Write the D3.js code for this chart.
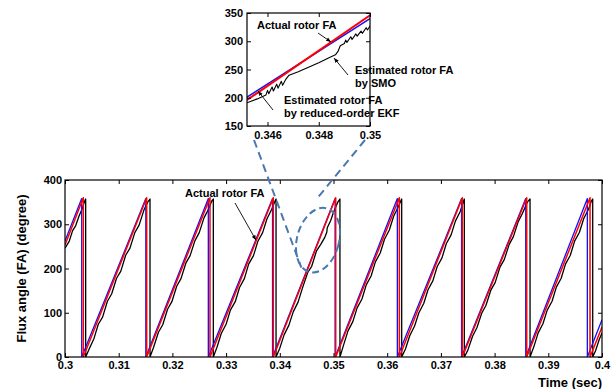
<!DOCTYPE html>
<html>
<head>
<meta charset="utf-8">
<script src="https://cdn.jsdelivr.net/npm/d3@7"></script>
<style>
	body { margin: 0; background: #fff; }
	svg text { font-family: "Liberation Sans", Arial, sans-serif; font-weight: bold; fill: #000; }
</style>
</head>
<body>
<svg id="svg" width="616" height="389"></svg>
<script>
// Flux angle (degree) against time (sec)

// actual rotor FA (red): ramp corners
var actualFA = [[0.3,253],[0.30341,360],[0.30341,0],[0.31521,360],[0.31521,0],[0.32700,360],[0.32700,0],
	[0.33879,360],[0.33879,0],[0.35041,360],[0.35041,0],[0.36226,360],[0.36226,0],[0.37399,360],[0.37399,0],
	[0.38598,360],[0.38598,0],[0.39777,360],[0.39777,0],[0.4,68]];

// estimated by reduced-order EKF (blue)
var ekfFA = [[0.3,262],[0.30311,358],[0.30311,0],[0.31505,358],[0.31505,0],[0.32669,358],[0.32669,0],
	[0.33865,358],[0.33865,0],[0.35030,358],[0.35030,0],[0.36189,358],[0.36189,0],[0.37385,358],[0.37385,0],
	[0.38580,358],[0.38580,0],[0.39727,358],[0.39727,0],[0.4,84]];

// estimated by SMO (black), wobbly and lagging a little
var smoFA = [[0.3000,246],[0.3008,262],[0.3014,285],[0.3020,297],[0.3026,318],[0.3032,335],[0.3036,350],[0.30385,357],[0.30385,0],
	[0.30450,18],[0.30540,42],[0.30620,74],[0.30700,90],[0.30790,126],[0.30870,143],[0.30960,178],[0.31040,194],
	[0.31130,230],[0.31210,246],[0.31300,281],[0.31380,298],[0.31470,332],[0.31540,350],[0.31583,357],[0.31583,0],
	[0.31650,22],[0.31740,56],[0.31820,73],[0.31910,108],[0.31990,125],[0.32080,160],[0.32160,177],[0.32250,212],
	[0.32330,229],[0.32420,263],[0.32500,281],[0.32590,315],[0.32670,333],[0.32730,352],[0.32762,357],[0.32762,0],
	[0.32830,22],[0.32910,53],[0.33000,74],[0.33080,106],[0.33170,125],[0.33250,157],[0.33340,177],[0.33420,210],
	[0.33510,229],[0.33590,261],[0.33680,281],[0.33760,312],[0.33850,334],[0.33910,352],[0.33930,357],[0.33930,0],
	[0.34000,20],[0.34080,50],[0.34170,72],[0.34250,102],[0.34340,124],[0.34420,155],[0.34520,191],[0.34594,205],
	[0.34684,240],[0.34760,254],[0.34840,271],[0.34875,282],[0.34884,292],[0.34950,309],[0.35000,327],[0.35080,350],
	[0.35120,357],[0.35120,0],
	[0.35190,28],[0.35270,59],[0.35360,80],[0.35440,111],[0.35530,131],[0.35610,163],[0.35700,183],[0.35780,215],
	[0.35870,235],[0.35950,266],[0.36040,287],[0.36120,318],[0.36210,340],[0.36250,352],[0.36270,357],[0.36270,0],
	[0.36340,18],[0.36420,48],[0.36510,70],[0.36590,100],[0.36680,121],[0.36760,152],[0.36850,172],[0.36930,204],
	[0.37020,224],[0.37100,256],[0.37190,276],[0.37270,307],[0.37360,329],[0.37410,348],[0.37436,357],[0.37436,0],
	[0.37500,15],[0.37590,47],[0.37670,66],[0.37760,99],[0.37840,117],[0.37930,151],[0.38010,168],[0.38100,203],
	[0.38180,220],[0.38270,254],[0.38350,272],[0.38440,306],[0.38520,325],[0.38610,350],[0.38660,357],[0.38660,0],
	[0.38730,23],[0.38810,54],[0.38900,75],[0.38980,106],[0.39070,126],[0.39150,158],[0.39240,178],[0.39320,210],
	[0.39410,230],[0.39490,262],[0.39580,282],[0.39660,313],[0.39750,334],[0.39800,352],[0.39827,357],[0.39827,0],
	[0.39880,14],[0.39950,40],[0.40000,54]];

// zoomed window 0.3452 - 0.35 s
var insetActual = [[0.3452,196],[0.3500,346]];
var insetEKF = [[0.3452,201],[0.3500,340]];
var insetSMO = [[0.3452,191],[0.3456,198],[0.34594,205],[0.3460,213],[0.34605,207],[0.34618,219],[0.34623,212],
	[0.34636,224],[0.34641,217],[0.34654,229],[0.34659,222],[0.34672,233],[0.34684,240],[0.3472,246],[0.3476,254],
	[0.3480,262],[0.3484,271],[0.34865,276],[0.34875,282],[0.34884,292],[0.3490,296],[0.34905,302],[0.3491,298],
	[0.34925,308],[0.3493,303],[0.34945,313],[0.3495,309],[0.34965,318],[0.3497,314],[0.34985,324],[0.3499,320],
	[0.3500,327]];

var mainTimeTicks = [0.3,0.31,0.32,0.33,0.34,0.35,0.36,0.37,0.38,0.39,0.4];
var mainAngleTicks = [0,100,200,300,400];
var insetTimeTicks = [0.346,0.348,0.35];
var insetAngleTicks = [150,200,250,300,350];

var svg = d3.select('#svg');

var main = {left: 65, top: 180, right: 602, bottom: 357};
var inset = {left: 247, top: 13, right: 370, bottom: 126};

var x = d3.scaleLinear().domain([0.3, 0.4]).range([main.left, main.right]);
var y = d3.scaleLinear().domain([0, 400]).range([main.bottom, main.top]);
var ix = d3.scaleLinear().domain([0.3452, 0.35]).range([inset.left, inset.right]);
var iy = d3.scaleLinear().domain([150, 350]).range([inset.bottom, inset.top]);

var defs = svg.append('defs');
defs.append('marker')
	.attr('id', 'arrow')
	.attr('viewBox', '0 0 10 10')
	.attr('refX', 10).attr('refY', 5)
	.attr('markerWidth', 5).attr('markerHeight', 5)
	.attr('markerUnits', 'userSpaceOnUse')
	.attr('orient', 'auto')
	.append('path').attr('d', 'M0,1 L10,5 L0,9 z').attr('fill', '#000');

function addClip(id, box){
	defs.append('clipPath').attr('id', id)
		.append('rect')
		.attr('x', box.left).attr('y', box.top)
		.attr('width', box.right - box.left).attr('height', box.bottom - box.top);
}
addClip('clipMain', main);
addClip('clipInset', inset);

function drawAxes(box, xs, ys, xTicks, yTicks, xFmt, yFmt, xPad, yPad){
	var g = svg.append('g');
	g.append('g').attr('transform', 'translate(0,' + box.bottom + ')')
		.call(d3.axisBottom(xs).tickValues(xTicks).tickFormat(xFmt).tickSizeInner(-4).tickSizeOuter(0).tickPadding(xPad));
	g.append('g').attr('transform', 'translate(0,' + box.top + ')')
		.call(d3.axisTop(xs).tickValues(xTicks).tickFormat('').tickSizeInner(-4).tickSizeOuter(0));
	g.append('g').attr('transform', 'translate(' + box.left + ',0)')
		.call(d3.axisLeft(ys).tickValues(yTicks).tickFormat(yFmt).tickSizeInner(-4).tickSizeOuter(0).tickPadding(yPad));
	g.append('g').attr('transform', 'translate(' + box.right + ',0)')
		.call(d3.axisRight(ys).tickValues(yTicks).tickFormat('').tickSizeInner(-4).tickSizeOuter(0));
	g.selectAll('.domain').remove();
	g.selectAll('.tick line').attr('stroke', '#000');
	g.selectAll('.tick text').style('font-size', '11px').style('font-family', '"Liberation Sans", Arial, sans-serif').style('font-weight', 'bold');
	g.append('rect')
		.attr('x', box.left).attr('y', box.top)
		.attr('width', box.right - box.left).attr('height', box.bottom - box.top)
		.attr('fill', 'none').attr('stroke', '#000').attr('stroke-width', 1.2);
}

function drawSeries(data, xs, ys, clip, color, width){
	var line = d3.line().x(function(d){ return xs(d[0]); }).y(function(d){ return ys(d[1]); });
	svg.append('path')
		.datum(data)
		.attr('clip-path', 'url(#' + clip + ')')
		.attr('d', line)
		.attr('fill', 'none')
		.attr('stroke', color)
		.attr('stroke-width', width)
		.attr('stroke-linejoin', 'round');
}

function label(txt, px, py, anchor, size){
	return svg.append('text').attr('x', px).attr('y', py)
		.attr('text-anchor', anchor || 'start')
		.style('font-size', (size || 11) + 'px')
		.text(txt);
}

function arrow(x1, y1, x2, y2){
	svg.append('line')
		.attr('x1', x1).attr('y1', y1).attr('x2', x2).attr('y2', y2)
		.attr('stroke', '#000').attr('stroke-width', 0.9)
		.attr('marker-end', 'url(#arrow)');
}

// main plot
drawSeries(smoFA, x, y, 'clipMain', '#000', 1.3);
drawSeries(ekfFA, x, y, 'clipMain', '#1010ff', 1.3);
drawSeries(actualFA, x, y, 'clipMain', '#ff0000', 1.5);
drawAxes(main, x, y, mainTimeTicks, mainAngleTicks, d3.format(''), d3.format(''), 4, 3);

label('Actual rotor FA', x(0.32235), y(362));
arrow(x(0.33166), y(348), x(0.33557), y(264));

label('Time (sec)', main.right, 387, 'end', 13);
label('Flux angle (FA) (degree)', 0, 0, 'middle', 13)
	.attr('transform', 'translate(26,' + ((main.top + main.bottom) / 2) + ') rotate(-90)');

// zoom marker and connectors
var dashColor = '#4a78b0';
svg.append('ellipse')
	.attr('cx', 0).attr('cy', 0).attr('rx', 21).attr('ry', 33)
	.attr('transform', 'translate(' + x(0.34711) + ',' + y(264) + ') rotate(15)')
	.attr('fill', 'none').attr('stroke', dashColor).attr('stroke-width', 2)
	.attr('stroke-dasharray', '7,4');
svg.append('line')
	.attr('x1', inset.left + 7).attr('y1', inset.bottom + 14)
	.attr('x2', x(0.34401)).attr('y2', y(202))
	.attr('stroke', dashColor).attr('stroke-width', 2).attr('stroke-dasharray', '8,5');
svg.append('line')
	.attr('x1', inset.right - 5).attr('y1', inset.bottom + 14)
	.attr('x2', x(0.34666)).attr('y2', y(354))
	.attr('stroke', dashColor).attr('stroke-width', 2).attr('stroke-dasharray', '8,5');

// inset
svg.append('rect')
	.attr('x', inset.left).attr('y', inset.top)
	.attr('width', inset.right - inset.left).attr('height', inset.bottom - inset.top)
	.attr('fill', '#fff');
drawSeries(insetSMO, ix, iy, 'clipInset', '#000', 1.1);
drawSeries(insetEKF, ix, iy, 'clipInset', '#1010ff', 1.5);
drawSeries(insetActual, ix, iy, 'clipInset', '#ff0000', 2);
drawAxes(inset, ix, iy, insetTimeTicks, insetAngleTicks, d3.format(''), d3.format(''), 5, 4);

label('Actual rotor FA', 257, 29);
arrow(318, 33, 331, 42);
label('Estimated rotor FA', 355, 74);
label('by SMO', 355, 87);
arrow(348, 75, 334, 58);
label('Estimated rotor FA', 284, 104);
label('by reduced-order EKF', 284, 117);
arrow(273, 110, 258, 91);
</script>
</body>
</html>
